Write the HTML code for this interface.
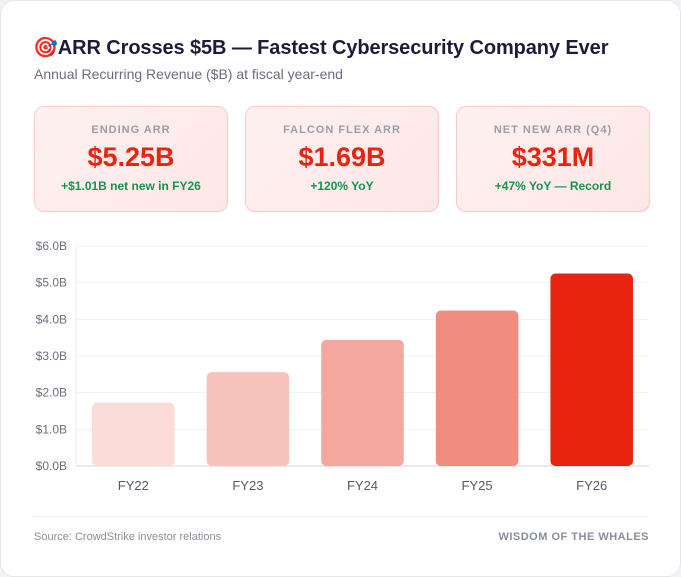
<!DOCTYPE html>
<html><head><meta charset="utf-8">
<style>
body{margin:0;background:#f3f3f5;font-family:"Liberation Sans",sans-serif;}
#card{position:absolute;left:0;top:0;width:679px;height:575px;background:#fff;border:1px solid #e5e5ea;border-radius:14px;}
.title{position:absolute;left:32px;top:34px;font-size:20px;font-weight:bold;color:#1e1b3a;white-space:nowrap;letter-spacing:-0.1px;}
.sub{position:absolute;left:33px;top:65px;font-size:14px;color:#6b6f7e;}
.kpi{position:absolute;top:105px;width:192px;height:104px;border:1px solid #fac9c9;border-radius:10px;background:linear-gradient(135deg,#fff1f1,#fde6e6);text-align:center;}
.kl{margin-top:17px;font-size:11px;font-weight:bold;letter-spacing:1px;color:#9a9ea9;}
.kv{margin-top:6px;font-size:27px;font-weight:bold;color:#e8230f;}
.kd{margin-top:6px;font-size:12px;font-weight:bold;color:#16934f;}
.foot{position:absolute;top:530px;font-size:11px;color:#8a8e9a;}
</style></head><body>
<div id="card">
<div class="title">🎯ARR Crosses $5B — Fastest Cybersecurity Company Ever</div>
<div class="sub">Annual Recurring Revenue ($B) at fiscal year-end</div>
<div class="kpi" style="left:33px"><div class="kl">ENDING ARR</div><div class="kv">$5.25B</div><div class="kd">+$1.01B net new in FY26</div></div>
<div class="kpi" style="left:244px"><div class="kl">FALCON FLEX ARR</div><div class="kv">$1.69B</div><div class="kd">+120% YoY</div></div>
<div class="kpi" style="left:455px"><div class="kl">NET NEW ARR (Q4)</div><div class="kv">$331M</div><div class="kd">+47% YoY — Record</div></div>
<svg id="chart" width="681" height="520" style="position:absolute;left:0;top:0"></svg>
<div style="position:absolute;left:32px;top:515px;width:616px;height:1px;background:#f0f0f2"></div>
<div class="foot" style="left:33px">Source: CrowdStrike investor relations</div>
<div class="foot" style="right:31px;font-weight:bold;letter-spacing:0.5px">WISDOM OF THE WHALES</div>
</div>
<script>
const categories=["FY22","FY23","FY24","FY25","FY26"];
const values=[1.73,2.56,3.44,4.24,5.25];
const colors=["#fbdcd8","#f7c3bb","#f4a79e","#f18c80","#e8230f"];
const ticks=[0,1,2,3,4,5,6];
const tickLabels=["$0.0B","$1.0B","$2.0B","$3.0B","$4.0B","$5.0B","$6.0B"];
const NS="http://www.w3.org/2000/svg";
const svg=document.getElementById('chart');
const x0=75,x1=648,yb=465,yt=245,vmax=6;
const y=v=>yb-(v/vmax)*(yb-yt);
const band=(x1-x0)/categories.length;
const xc=i=>x0+band*(i+0.5);
function mk(t,a){const e=document.createElementNS(NS,t);for(const k in a)e.setAttribute(k,a[k]);svg.appendChild(e);return e;}
ticks.forEach((t,i)=>{
 const g=mk('line',{x1:x0,x2:x1,y1:y(t),y2:y(t),stroke:t===0?'#e2e2e6':'#f0f0f2','stroke-width':t===0?1.5:1});
 
 
 const l=mk('text',{x:66,y:y(t)+4,'text-anchor':'end','font-size':12,fill:'#6b6f7e','font-family':'Liberation Sans, sans-serif'});
 l.textContent=tickLabels[i];
 
 
});
mk('line',{x1:x0,x2:x0,y1:yt,y2:yb,stroke:'#ececef'});
categories.forEach((c,i)=>{
 const w=band*0.72;
 const r=mk('rect',{x:xc(i)-w/2,y:y(values[i]),width:w,height:yb-y(values[i]),rx:5,fill:colors[i]});
 
 
 const t=mk('text',{x:xc(i),y:yb+24,'text-anchor':'middle','font-size':13,fill:'#555a68','font-family':'Liberation Sans, sans-serif'});
 t.textContent=c;
 
 
});
</script>
</body></html>
